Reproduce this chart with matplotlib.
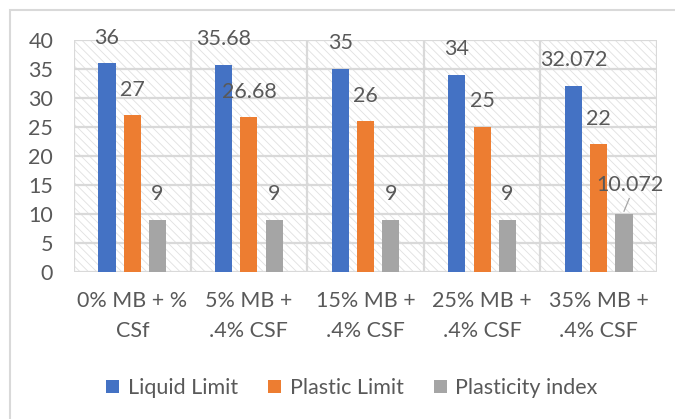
import matplotlib
matplotlib.use("Agg")
import matplotlib.pyplot as plt
import numpy as np
from matplotlib.patches import Rectangle

categories = ["0% MB + %\nCSf", "5% MB +\n.4% CSF", "15% MB +\n.4% CSF", "25% MB +\n.4% CSF", "35% MB +\n.4% CSF"]
liquid_limit = [36, 35.68, 35, 34, 32.072]
plastic_limit = [27, 26.68, 26, 25, 22]
plasticity_index = [9, 9, 9, 9, 10.072]
series_names = ["Liquid Limit", "Plastic Limit", "Plasticity index"]
colors = ["#4472C4", "#ED7D31", "#A5A5A5"]
yticks = [0, 5, 10, 15, 20, 25, 30, 35, 40]

plt.rcParams['font.family'] = ['Lato', 'DejaVu Sans']
plt.rcParams['hatch.linewidth'] = 0.6
txt = '#595959'
grid = '#d9d9d9'
fs = 15.5

fig = plt.figure(figsize=(6.75, 4.19), dpi=100)
W, H = 675, 419
# outer chart frame
fig.patches.append(Rectangle((10 / W, -0.1), 1.2, 1 - 10 / H + 0.1, transform=fig.transFigure,
                             fill=False, edgecolor=grid, linewidth=1.5))

ax = fig.add_axes([74 / W, 1 - 272 / H, (657 - 74) / W, (272 - 40) / H])
ax.set_facecolor('white')
n = len(categories)
x = np.arange(n)
ax.set_xlim(-0.5, n - 0.5)
ax.set_ylim(0, 40)
ax.add_patch(Rectangle((-0.5, 0), n, 40, facecolor='white', edgecolor='#e0e0e0', hatch='\\\\\\\\',
                       linewidth=0, zorder=0))
for yv in yticks:
    ax.axhline(yv, color=grid, lw=1.6, zorder=1)
for xv in np.arange(-0.5, n, 1):
    ax.axvline(xv, color=grid, lw=1.6, zorder=1)
for s in ax.spines.values():
    s.set_visible(False)

bw = 0.146
step = 0.217
data = [liquid_limit, plastic_limit, plasticity_index]
for i, (vals, c, name) in enumerate(zip(data, colors, series_names)):
    xs = x + (i - 1) * step
    ax.bar(xs, vals, bw, color=c, label=name, zorder=3)
    for j, (xx, v) in enumerate(zip(xs, vals)):
        lab = f"{v:g}"
        if i == 2 and j == 4:
            ax.plot([xx, xx + 0.045], [v + 0.4, v + 2.6], color='#a6a6a6', lw=0.9, zorder=4)
            ax.text(xx + 0.05, v + 4.9, lab, ha='center', va='center', fontsize=fs, color=txt, zorder=4)
        else:
            ax.annotate(lab, xy=(xx, v), xytext=(0, 18.5), textcoords='offset points',
                        ha='center', va='center', fontsize=fs, color=txt, zorder=4)

ax.set_yticks(yticks)
ax.set_xticks(x)
ax.set_xticklabels(categories, linespacing=1.6)
ax.tick_params(axis='both', length=0, labelsize=fs, colors=txt)
ax.tick_params(axis='y', pad=15)
ax.tick_params(axis='x', pad=14)

leg = fig.legend(loc='center', bbox_to_anchor=(352 / W, 1 - 388 / H), ncol=3, frameon=False,
                 fontsize=fs, handlelength=0.6, handleheight=0.6, handletextpad=0.4,
                 columnspacing=1.4, labelcolor=txt)

fig.savefig('out.png', dpi=100)
